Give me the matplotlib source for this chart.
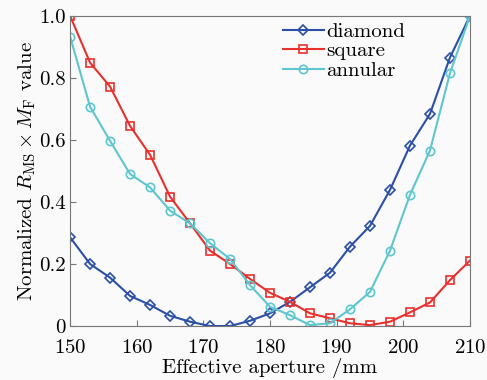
import matplotlib
matplotlib.use("Agg")
import matplotlib.pyplot as plt

plt.rcParams['font.family'] = 'serif'
plt.rcParams['font.serif'] = ['cmr10', 'DejaVu Serif']
plt.rcParams['mathtext.fontset'] = 'cm'
plt.rcParams['axes.formatter.use_mathtext'] = True

# effective aperture, mm
aperture = [150, 153, 156, 159, 162, 165, 168, 171, 174, 177, 180,
            183, 186, 189, 192, 195, 198, 201, 204, 207, 210]

diamond = [0.286, 0.200, 0.156, 0.097, 0.068, 0.033, 0.014, 0.0, 0.0, 0.017, 0.041,
           0.078, 0.125, 0.172, 0.256, 0.323, 0.439, 0.582, 0.684, 0.866, 1.0]
square = [1.0, 0.849, 0.772, 0.645, 0.552, 0.417, 0.331, 0.243, 0.200, 0.152, 0.107,
          0.078, 0.041, 0.025, 0.009, 0.003, 0.014, 0.044, 0.076, 0.148, 0.211]
annular = [0.933, 0.707, 0.597, 0.490, 0.447, 0.372, 0.331, 0.267, 0.216, 0.132, 0.062,
           0.035, 0.003, 0.009, 0.054, 0.110, 0.243, 0.423, 0.566, 0.815, 1.0]

fig = plt.figure(figsize=(4.87, 3.8), dpi=100, facecolor='#fafafa')
ax = fig.add_axes([0.144, 0.142, 0.821, 0.816])
ax.set_facecolor('#fafafa')

ax.plot(aperture, diamond, color='#2b4fa6', marker='D', markersize=5,
        markerfacecolor='none', markeredgewidth=1.2, linewidth=1.5, label='diamond')
ax.plot(aperture, square, color='#e8302c', marker='s', markersize=6,
        markerfacecolor='none', markeredgewidth=1.2, linewidth=1.5, label='square')
ax.plot(aperture, annular, color='#5ec6cf', marker='o', markersize=6,
        markerfacecolor='none', markeredgewidth=1.2, linewidth=1.5, label='annular')

ax.set_xlim(150, 210)
ax.set_ylim(0, 1.0)
ax.set_xticks([150, 160, 170, 180, 190, 200, 210])
ax.set_yticks([0, 0.2, 0.4, 0.6, 0.8, 1.0])
ax.set_yticklabels(['0', '0.2', '0.4', '0.6', '0.8', '1.0'])
ax.tick_params(direction='in', labelsize=15, length=4, color='#777777')
ax.tick_params(axis='x', pad=9)
ax.tick_params(axis='y', pad=3)
for s in ax.spines.values():
    s.set_color('#777777')

ax.set_xlabel('Effective aperture /mm', fontsize=15, labelpad=1)
ax.set_ylabel(r'Normalized $R_{\rm MS}\times M_{\rm F}$ value', fontsize=15, labelpad=1)

ax.legend(loc='upper left', bbox_to_anchor=(0.5, 1.02), frameon=False, fontsize=15,
          handlelength=2.0, handletextpad=0.1, labelspacing=0.05, borderaxespad=0.2)

fig.savefig('out.png', dpi=100, facecolor=fig.get_facecolor())
